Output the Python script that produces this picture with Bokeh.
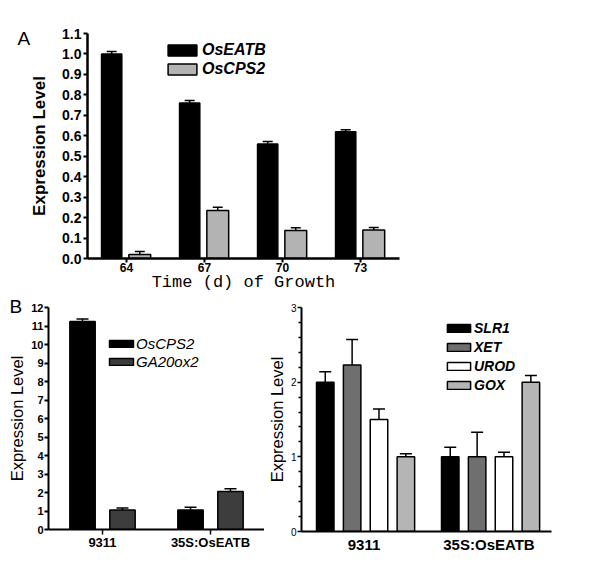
from bokeh.plotting import figure
from bokeh.models import (ColumnDataSource, FactorRange, Range1d, FixedTicker,
                          PrintfTickFormatter, Whisker, TeeHead, Legend, LegendItem, Title)
from bokeh.transform import dodge
from bokeh.layouts import column, row
from bokeh.embed import file_html
from bokeh.resources import INLINE

# ---------------- data ----------------
# Panel A
days = ["64", "67", "70", "73"]
oseatb = [1.00, 0.76, 0.56, 0.62]
oseatb_err = [0.012, 0.012, 0.012, 0.010]
oscps2_a = [0.02, 0.235, 0.137, 0.139]
oscps2_a_err = [0.014, 0.015, 0.013, 0.013]
a_yticks = [0.0, 0.1, 0.2, 0.3, 0.4, 0.5, 0.6, 0.7, 0.8, 0.9, 1.0, 1.1]

# Panel B left
lines = ["9311", "35S:OsEATB"]
oscps2_b = [11.24, 1.05]
oscps2_b_err = [0.14, 0.15]
ga20ox2 = [1.05, 2.05]
ga20ox2_err = [0.11, 0.15]
bl_yticks = [0, 1, 2, 3, 4, 5, 6, 7, 8, 9, 10, 11, 12]

# Panel B right
slr1 = [2.00, 1.00]
slr1_err = [0.14, 0.13]
xet = [2.23, 1.00]
xet_err = [0.34, 0.33]
urod = [1.50, 1.00]
urod_err = [0.14, 0.06]
gox = [1.00, 2.00]
gox_err = [0.04, 0.09]
br_yticks = [0, 1, 2, 3]
br_minor = [0.2, 0.4, 0.6, 0.8, 1.2, 1.4, 1.6, 1.8, 2.2, 2.4, 2.6, 2.8]

FONT = "Liberation Sans"


def up(vals, errs):
    return [v + e for v, e in zip(vals, errs)]


def base_style(p):
    p.xgrid.visible = False
    p.ygrid.visible = False
    p.outline_line_color = None
    p.background_fill_color = "white"
    p.border_fill_color = "white"
    for ax in (p.xaxis[0], p.yaxis[0]):
        ax.axis_line_color = "black"
        ax.major_tick_line_color = "black"
        ax.major_tick_in = 0
        ax.major_tick_out = 4
        ax.minor_tick_line_color = None
        ax.major_label_text_font = FONT
        ax.axis_label_text_font = FONT
        ax.major_label_text_color = "black"
        ax.axis_label_text_color = "black"


def add_bars(p, src, xcol, ycol, upcol, offset, width, color, head):
    r = p.vbar(x=dodge(xcol, offset, range=p.x_range), top=ycol, width=width,
               fill_color=color, line_color="black", line_width=1.5, source=src)
    w = Whisker(source=src, base=dodge(xcol, offset, range=p.x_range), upper=upcol,
                lower=ycol, dimension="height", line_color="black", line_width=1.5,
                upper_head=TeeHead(size=head, line_color="black", line_width=1.5),
                lower_head=None)
    p.add_layout(w)
    return r


def make_legend(items, loc, gw, gh, lh, fs, style, standoff):
    return Legend(items=items, location=loc, padding=0, spacing=0, margin=0,
                  border_line_color=None, background_fill_alpha=0,
                  glyph_width=gw, glyph_height=gh, label_height=lh,
                  label_standoff=standoff, label_text_font=FONT,
                  label_text_color="black",
                  label_text_font_size=fs, label_text_font_style=style)


def panel_letter(p, letter, offset, standoff):
    p.title = Title(text=letter, align="left", offset=offset, standoff=standoff,
                    vertical_align="bottom", text_font=FONT, text_font_size="19px",
                    text_font_style="normal", text_color="black")


# ---------------- Panel A ----------------
src_a = ColumnDataSource(dict(day=days, eatb=oseatb, eatb_up=up(oseatb, oseatb_err),
                              cps=oscps2_a, cps_up=up(oscps2_a, oscps2_a_err)))
pa = figure(x_range=FactorRange(factors=days), y_range=Range1d(0, 1.1),
            frame_width=312, frame_height=225, min_border_left=87, min_border_right=20,
            min_border_top=33, min_border_bottom=30,
            output_backend="svg", toolbar_location=None)
base_style(pa)
ra1 = add_bars(pa, src_a, "day", "eatb", "eatb_up", -0.19, 0.26, "black", 10)
ra2 = add_bars(pa, src_a, "day", "cps", "cps_up", 0.17, 0.28, "#b3b3b3", 10)
pa.yaxis.ticker = FixedTicker(ticks=a_yticks, minor_ticks=[])
pa.yaxis.formatter = PrintfTickFormatter(format="%.1f")
pa.yaxis.axis_line_width = 2.5
pa.xaxis.axis_line_width = 2.5
pa.yaxis.major_tick_line_width = 2
pa.xaxis.major_tick_line_width = 2
pa.yaxis.major_label_text_font_size = "14px"
pa.yaxis.major_label_text_font_style = "bold"
pa.xaxis.major_label_text_font_size = "12px"
pa.xaxis.major_label_text_font_style = "bold"
pa.yaxis.major_label_standoff = 2
pa.xaxis.major_label_standoff = 0
pa.yaxis.axis_label = "Expression Level"
pa.yaxis.axis_label_text_font_size = "17px"
pa.yaxis.axis_label_text_font_style = "bold"
pa.yaxis.axis_label_standoff = 10
pa.xaxis.axis_label = "Time (d) of Growth"
pa.xaxis.axis_label_text_font = "Liberation Mono"
pa.xaxis.axis_label_text_font_size = "17px"
pa.xaxis.axis_label_text_font_style = "normal"
pa.xaxis.axis_label_standoff = -2
pa.add_layout(make_legend([LegendItem(label="OsEATB", renderers=[ra1]),
                           LegendItem(label="OsCPS2", renderers=[ra2])],
                          (77, 180), 36, 14, 19, "16px", "bold italic", 2))
panel_letter(pa, "A", -70, -30)

# ---------------- Panel B left ----------------
src_bl = ColumnDataSource(dict(line=lines, cps=oscps2_b, cps_up=up(oscps2_b, oscps2_b_err),
                               ga=ga20ox2, ga_up=up(ga20ox2, ga20ox2_err)))
pbl = figure(x_range=FactorRange(factors=lines), y_range=Range1d(0, 12),
             frame_width=216, frame_height=222, min_border_left=48, min_border_right=0,
             min_border_top=13, min_border_bottom=30,
             output_backend="svg", toolbar_location=None)
base_style(pbl)
rb1 = add_bars(pbl, src_bl, "line", "cps", "cps_up", -0.185, 0.235, "black", 12)
rb2 = add_bars(pbl, src_bl, "line", "ga", "ga_up", 0.185, 0.235, "#3d3d3d", 12)
pbl.yaxis.ticker = FixedTicker(ticks=bl_yticks, minor_ticks=[])
pbl.yaxis.axis_line_width = 2
pbl.xaxis.axis_line_width = 2
pbl.yaxis.major_tick_line_width = 2
pbl.xaxis.major_tick_line_width = 1.5
pbl.yaxis.major_tick_out = 4
pbl.xaxis.major_tick_out = 5
pbl.yaxis.major_label_text_font_size = "11px"
pbl.yaxis.major_label_text_font_style = "bold"
pbl.xaxis.major_label_text_font_size = "13px"
pbl.xaxis.major_label_text_font_style = "bold"
pbl.yaxis.major_label_standoff = 1
pbl.xaxis.major_label_standoff = 0
pbl.yaxis.axis_label = "Expression Level"
pbl.yaxis.axis_label_text_font_size = "16.5px"
pbl.yaxis.axis_label_text_font_style = "normal"
pbl.yaxis.axis_label_standoff = 2
pbl.add_layout(make_legend([LegendItem(label="OsCPS2", renderers=[rb1]),
                            LegendItem(label="GA20ox2", renderers=[rb2])],
                           (58, 159), 30, 9, 18, "15px", "italic", 0))
panel_letter(pbl, "B", -39, -18)

# ---------------- Panel B right ----------------
src_br = ColumnDataSource(dict(line=lines,
                               slr=slr1, slr_up=up(slr1, slr1_err),
                               xet=xet, xet_up=up(xet, xet_err),
                               urod=urod, urod_up=up(urod, urod_err),
                               gox=gox, gox_up=up(gox, gox_err)))
pbr = figure(x_range=FactorRange(factors=lines), y_range=Range1d(0, 3),
             frame_width=250, frame_height=224, min_border_left=33, min_border_right=20,
             min_border_top=12, min_border_bottom=30,
             output_backend="svg", toolbar_location=None)
base_style(pbr)
rc1 = add_bars(pbr, src_br, "line", "slr", "slr_up", -0.31, 0.14, "black", 12)
rc2 = add_bars(pbr, src_br, "line", "xet", "xet_up", -0.095, 0.14, "#6f6f6f", 12)
rc3 = add_bars(pbr, src_br, "line", "urod", "urod_up", 0.12, 0.14, "white", 12)
rc4 = add_bars(pbr, src_br, "line", "gox", "gox_up", 0.335, 0.14, "#b5b5b5", 12)
pbr.yaxis.ticker = FixedTicker(ticks=br_yticks, minor_ticks=br_minor)
pbr.yaxis.minor_tick_line_color = "black"
pbr.yaxis.minor_tick_in = 0
pbr.yaxis.minor_tick_out = 3
pbr.yaxis.minor_tick_line_width = 1.5
pbr.yaxis.axis_line_width = 2
pbr.xaxis.axis_line_width = 2
pbr.yaxis.major_tick_line_width = 1.5
pbr.xaxis.major_tick_line_color = None
pbr.yaxis.major_label_text_font_size = "10px"
pbr.xaxis.major_label_text_font_size = "15px"
pbr.xaxis.major_label_text_font_style = "bold"
pbr.yaxis.major_label_standoff = 1
pbr.xaxis.major_label_standoff = 0
pbr.yaxis.axis_label = "Expression Level"
pbr.yaxis.axis_label_text_font_size = "16.5px"
pbr.yaxis.axis_label_text_font_style = "normal"
pbr.yaxis.axis_label_standoff = 2
pbr.add_layout(make_legend([LegendItem(label="SLR1", renderers=[rc1]),
                            LegendItem(label="XET", renderers=[rc2]),
                            LegendItem(label="UROD", renderers=[rc3]),
                            LegendItem(label="GOX", renderers=[rc4])],
                           (143, 137), 29, 10, 19, "14px", "bold italic", 1))

layout = column(pa, row(pbl, pbr))
open("out.html", "w").write(file_html(layout, INLINE))
